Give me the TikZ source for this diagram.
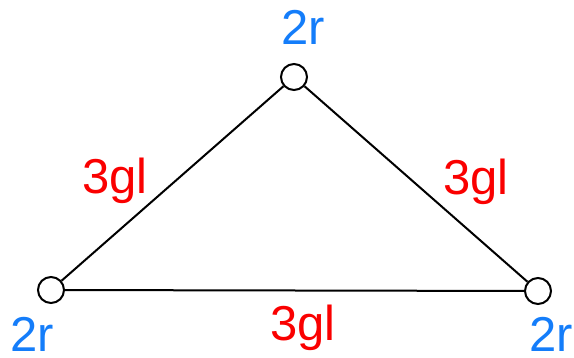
\documentclass[tikz,border=0pt]{standalone}
\usepackage{fontspec}
\setmainfont{Liberation Sans}
\definecolor{rblue}{RGB}{20,125,250}
\definecolor{lred}{RGB}{250,0,0}
\tikzset{
  vertex/.style={circle, draw, line width=2pt, fill=white, minimum size=26pt, inner sep=0pt},
  rlabel/.style={anchor=base, text=rblue, font=\fontsize{49}{52}\selectfont, inner sep=0pt},
  glabel/.style={anchor=base, text=lred, font=\fontsize{49}{52}\selectfont, inner sep=0pt}
}
\begin{document}
\begin{tikzpicture}[x=1pt, y=-1pt]
        \useasboundingbox (0,0) rectangle (574,358);
        % Vertices
        \node[vertex] (top) at (294, 77) {};
        \node[vertex] (left) at (51, 290) {};
        \node[vertex] (right) at (538, 291) {};

        % Edges
        \draw[line width=2pt] (top) -- (left);
        \draw[line width=2pt] (top) -- (right);
        \draw[line width=2pt] (left) -- (right);

        % Masses
        \node[rlabel] (mtop) at (303, 45) {2r};
        \node[rlabel] (mleft) at (32, 352) {2r};
        \node[rlabel] (mright) at (551, 352) {2r};

        % Lengths
        \node[glabel] (lleft) at (115, 194) {3gl};
        \node[glabel] (lright) at (476, 195) {3gl};
        \node[glabel] (lbottom) at (303, 341) {3gl};
    \end{tikzpicture}
\end{document}
